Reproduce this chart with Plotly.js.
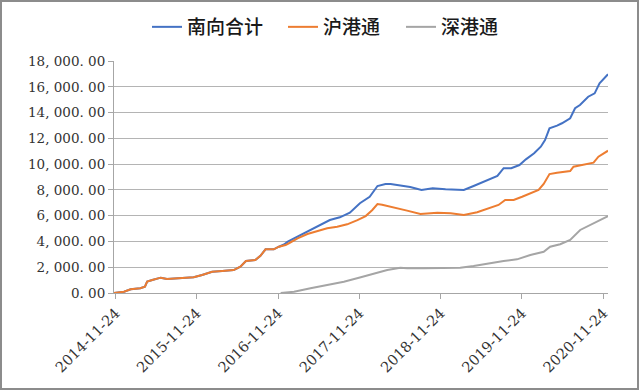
<!DOCTYPE html>
<html>
<head>
<meta charset="utf-8">
<script src="https://cdn.plot.ly/plotly-3.0.1.min.js"></script>
<style>
  html, body { margin:0; padding:0; background:#fff; }
  #wrap { position:relative; width:640px; height:391px; }
  #chart { width:640px; height:391px; }
  #wrap::after { content:''; position:absolute; left:0; top:0; width:639px; height:390px;
    border:2px solid #8c8c8c; box-sizing:border-box; pointer-events:none; }
</style>
</head>
<body>
<div id="wrap"><div id="chart"></div></div>
<script>
// 南向合计 (total southbound)
const nanDates = ['2014-11-17','2015-01-01','2015-01-31','2015-03-15','2015-04-05','2015-04-15','2015-05-08','2015-06-15','2015-07-13','2015-08-20','2015-11-10','2015-12-18','2016-02-01','2016-03-17','2016-05-08','2016-06-07','2016-07-02','2016-08-13','2016-09-05','2016-09-28','2016-11-04','2016-11-27','2016-12-20','2017-01-06','2017-02-19','2017-04-04','2017-05-26','2017-07-14','2017-08-28','2017-10-12','2017-11-26','2018-01-09','2018-02-13','2018-03-21','2018-04-13','2018-05-27','2018-07-10','2018-08-30','2018-10-19','2018-12-16','2019-03-08','2019-04-21','2019-06-20','2019-08-06','2019-09-03','2019-10-07','2019-11-13','2019-12-12','2020-01-18','2020-02-17','2020-03-07','2020-03-27','2020-04-30','2020-05-22','2020-06-28','2020-07-20','2020-08-11','2020-09-17','2020-10-16','2020-11-07','2020-12-15'];
const nanValues = [5,100,290,365,490,880,1010,1190,1080,1140,1220,1400,1650,1710,1780,2040,2480,2560,2890,3390,3390,3590,3760,3980,4370,4760,5200,5660,5870,6230,6960,7470,8300,8460,8460,8360,8220,7990,8120,8050,7990,8300,8770,9080,9680,9680,9930,10370,10840,11350,11870,12780,12980,13170,13560,14330,14590,15230,15490,16270,16970];

// 沪港通 (Shanghai-HK)
const huDates = ['2014-11-17','2015-01-01','2015-01-31','2015-03-15','2015-04-05','2015-04-15','2015-05-08','2015-06-15','2015-07-13','2015-08-20','2015-11-10','2015-12-18','2016-02-01','2016-03-17','2016-05-08','2016-06-07','2016-07-02','2016-08-13','2016-09-05','2016-09-28','2016-11-04','2016-11-27','2016-12-27','2017-01-11','2017-02-19','2017-04-04','2017-05-26','2017-07-02','2017-08-16','2017-09-30','2017-11-15','2017-12-22','2018-01-21','2018-02-13','2018-03-06','2018-04-13','2018-06-26','2018-08-25','2018-11-09','2019-01-08','2019-03-08','2019-05-07','2019-07-05','2019-08-11','2019-09-10','2019-10-18','2019-11-25','2020-01-01','2020-02-07','2020-03-01','2020-03-27','2020-04-30','2020-06-28','2020-07-13','2020-08-27','2020-10-11','2020-11-02','2020-11-25','2020-12-15'];
const huValues = [5,100,290,365,490,880,1010,1190,1080,1140,1220,1400,1650,1710,1780,2040,2480,2560,2890,3390,3390,3590,3720,3860,4240,4580,4830,5020,5140,5330,5660,5970,6440,6900,6850,6710,6390,6130,6230,6180,6050,6260,6630,6830,7220,7220,7470,7740,7990,8460,9230,9330,9460,9800,9930,10110,10580,10840,11040];

// 深港通 (Shenzhen-HK)
const shenDates = ['2016-12-05','2017-02-03','2017-04-18','2017-07-02','2017-09-15','2017-11-30','2018-01-28','2018-03-29','2018-05-27','2018-06-26','2018-09-10','2018-11-24','2019-02-20','2019-04-21','2019-07-05','2019-09-03','2019-11-02','2020-01-01','2020-03-01','2020-03-30','2020-05-14','2020-06-28','2020-08-12','2020-09-26','2020-11-10','2020-12-15'];
const shenValues = [0,100,365,620,880,1220,1470,1780,1960,1920,1920,1920,1960,2090,2330,2480,2610,2950,3200,3590,3780,4110,4890,5280,5660,5970];

const seriesNames = ['南向合计','沪港通','深港通'];
const xTickVals = ['2014-11-24','2015-11-24','2016-11-24','2017-11-24','2018-11-24','2019-11-24','2020-11-24'];
const yTickVals = [0,2000,4000,6000,8000,10000,12000,14000,16000,18000];
const yTickText = ['0. 00','2, 000. 00','4, 000. 00','6, 000. 00','8, 000. 00','10, 000. 00','12, 000. 00','14, 000. 00','16, 000. 00','18, 000. 00'];

const traces = [
  {x:nanDates, y:nanValues, name:seriesNames[0], legend:'legend', type:'scatter', mode:'lines', line:{color:'#4472C4', width:2}},
  {x:huDates, y:huValues, name:seriesNames[1], legend:'legend2', type:'scatter', mode:'lines', line:{color:'#ED7D31', width:2}},
  {x:shenDates, y:shenValues, name:seriesNames[2], legend:'legend3', type:'scatter', mode:'lines', line:{color:'#A5A5A5', width:2}}
];

const legFont = {family:'Noto Sans CJK SC', size:19, color:'#1a1a1a', weight:500};
function leg(xpx) {
  return {orientation:'h', xref:'container', yref:'container', x:xpx/640, xanchor:'left',
    y:1 - 27/391, yanchor:'middle', font:legFont, bgcolor:'rgba(0,0,0,0)', borderwidth:0};
}

const layout = {
  width:640, height:391,
  margin:{l:114, r:32, t:61, b:98},
  paper_bgcolor:'#fff', plot_bgcolor:'#fff',
  showlegend:true,
  legend:leg(147), legend2:leg(283), legend3:leg(401),
  xaxis:{type:'date', range:['2014-11-17','2020-12-15'], tickmode:'array', tickvals:xTickVals, ticktext:xTickVals,
    tickangle:-45, showgrid:false, showline:true, linecolor:'#a6a6a6', linewidth:1,
    ticks:'outside', ticklen:5, tickcolor:'#a6a6a6', zeroline:false,
    tickfont:{family:'DejaVu Serif', size:14.5, color:'#333'}},
  yaxis:{range:[0,18000], tickmode:'array', tickvals:yTickVals, ticktext:yTickText,
    showgrid:true, gridcolor:'#b4b4b4', gridwidth:1, showline:true, linecolor:'#a6a6a6', linewidth:1,
    ticks:'outside', ticklen:5, tickcolor:'#a6a6a6', zeroline:false,
    tickfont:{family:'DejaVu Serif', size:13.5, color:'#333'}}
};

Plotly.newPlot('chart', traces, layout, {displayModeBar:false, staticPlot:true});
</script>
</body>
</html>
